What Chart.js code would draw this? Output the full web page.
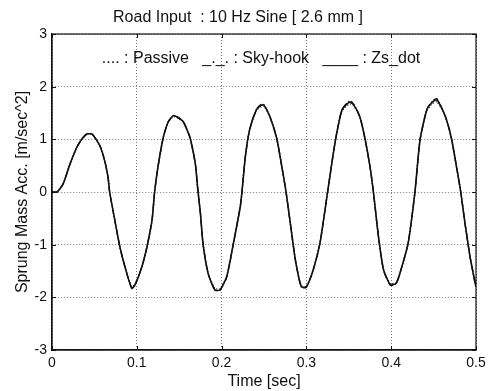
<!DOCTYPE html>
<html>
<head>
<meta charset="utf-8">
<script src="https://cdn.jsdelivr.net/npm/chart.js@4/dist/chart.umd.min.js"></script>
<style>
  html, body { margin: 0; padding: 0; background: #fff; }
  #wrap { width: 497px; height: 391px; position: relative; }
</style>
</head>
<body>
<div id="wrap"><canvas id="acc-chart"></canvas></div>
<script>
"use strict";

// time stamps [sec]
const timeSec = [
  0.000, 0.006, 0.013, 0.021, 0.029, 0.035, 0.041, 0.047, 0.052, 0.057,
  0.062, 0.066, 0.068, 0.074, 0.080, 0.086, 0.094, 0.098, 0.106, 0.112,
  0.118, 0.121, 0.125, 0.131, 0.137, 0.143, 0.149, 0.155, 0.160, 0.163,
  0.169, 0.172, 0.175, 0.178, 0.184, 0.192, 0.198, 0.206, 0.214, 0.222,
  0.224, 0.228, 0.233, 0.241, 0.247, 0.250, 0.257, 0.265, 0.271, 0.276,
  0.281, 0.287, 0.294, 0.300, 0.308, 0.316, 0.325, 0.330, 0.335, 0.342,
  0.351, 0.356, 0.363, 0.369, 0.375, 0.379, 0.385, 0.391, 0.399, 0.406,
  0.412, 0.420, 0.428, 0.434, 0.442, 0.448, 0.454, 0.464, 0.471, 0.477,
  0.482, 0.487, 0.493, 0.499, 0.500
];

// Zs_dot control (solid)
const zsDot = [
  0.00, 0.00, 0.15, 0.52, 0.84, 1.00, 1.10, 1.10, 1.00, 0.86,
  0.60, 0.29, 0.00, -0.53, -1.04, -1.42, -1.83, -1.76, -1.42, -1.04,
  -0.53, 0.00, 0.48, 1.02, 1.33, 1.45, 1.41, 1.33, 1.15, 1.02,
  0.54, 0.04, -0.40, -0.97, -1.54, -1.86, -1.86, -1.61, -0.97, -0.28,
  0.00, 0.67, 1.18, 1.56, 1.65, 1.65, 1.43, 1.02, 0.48, 0.00,
  -0.59, -1.29, -1.80, -1.80, -1.48, -0.97, 0.00, 0.55, 1.05, 1.56,
  1.71, 1.65, 1.43, 1.02, 0.48, 0.00, -0.85, -1.48, -1.76, -1.73,
  -1.45, -0.97, 0.00, 0.99, 1.56, 1.70, 1.75, 1.43, 1.02, 0.48,
  0.00, -0.59, -1.23, -1.73, -1.80
];

// Passive (dotted)
const passive = [
  0.00, 0.00, 0.15, 0.52, 0.84, 1.00, 1.10, 1.10, 1.00, 0.86,
  0.60, 0.29, 0.00, -0.53, -1.04, -1.42, -1.80, -1.74, -1.42, -1.04,
  -0.53, 0.00, 0.48, 1.02, 1.33, 1.43, 1.40, 1.33, 1.15, 1.02,
  0.54, 0.04, -0.40, -0.97, -1.54, -1.83, -1.84, -1.60, -0.97, -0.28,
  0.00, 0.67, 1.18, 1.55, 1.62, 1.63, 1.43, 1.02, 0.48, 0.00,
  -0.59, -1.29, -1.78, -1.79, -1.48, -0.97, 0.00, 0.55, 1.05, 1.54,
  1.67, 1.63, 1.43, 1.02, 0.48, 0.00, -0.85, -1.47, -1.74, -1.72,
  -1.45, -0.97, 0.00, 0.99, 1.54, 1.67, 1.71, 1.43, 1.02, 0.48,
  0.00, -0.59, -1.23, -1.70, -1.78
];

// Sky-hook (dash-dot)
const skyHook = [
  0.00, 0.00, 0.15, 0.52, 0.84, 1.00, 1.10, 1.10, 1.00, 0.86,
  0.60, 0.29, 0.00, -0.53, -1.04, -1.42, -1.82, -1.77, -1.42, -1.04,
  -0.53, 0.00, 0.48, 1.02, 1.33, 1.44, 1.42, 1.33, 1.15, 1.02,
  0.54, 0.04, -0.40, -0.97, -1.54, -1.85, -1.87, -1.62, -0.97, -0.28,
  0.00, 0.67, 1.18, 1.57, 1.67, 1.66, 1.43, 1.02, 0.48, 0.00,
  -0.59, -1.29, -1.81, -1.81, -1.48, -0.97, 0.00, 0.55, 1.05, 1.57,
  1.73, 1.66, 1.43, 1.02, 0.48, 0.00, -0.85, -1.49, -1.77, -1.74,
  -1.45, -0.97, 0.00, 0.99, 1.57, 1.72, 1.77, 1.43, 1.02, 0.48,
  0.00, -0.59, -1.23, -1.74, -1.81
];

const xTicks = [0, 0.1, 0.2, 0.3, 0.4, 0.5];
const yTicks = [-3, -2, -1, 0, 1, 2, 3];

const chartTitle = "Road Input  : 10 Hz Sine [ 2.6 mm ]";
const xTitle = "Time [sec]";
const yTitle = "Sprung Mass Acc. [m/sec^2]";
const legendText = ".... : Passive   _._. : Sky-hook   ____ : Zs_dot";

const FONT = "'Liberation Sans', Arial, Helvetica, sans-serif";
const INK = "#111";

const toPoints = (vals) => timeSec.map((t, i) => ({ x: t, y: vals[i] }));

// frame box, inward ticks and in-plot legend text (MATLAB style)
const framePlugin = {
  id: "frame",
  afterDatasetsDraw(chart) {
    const { ctx, chartArea: a, scales } = chart;
    ctx.save();
    ctx.strokeStyle = INK;
    ctx.lineWidth = 1.2;
    ctx.strokeRect(a.left, a.top, a.right - a.left, a.bottom - a.top);

    const tl = 4;
    ctx.lineWidth = 1;
    ctx.beginPath();
    xTicks.forEach((v) => {
      const px = Math.round(scales.x.getPixelForValue(v)) + 0.5;
      ctx.moveTo(px, a.bottom); ctx.lineTo(px, a.bottom - tl);
      ctx.moveTo(px, a.top); ctx.lineTo(px, a.top + tl);
    });
    yTicks.forEach((v) => {
      const py = Math.round(scales.y.getPixelForValue(v)) + 0.5;
      ctx.moveTo(a.left, py); ctx.lineTo(a.left + tl, py);
      ctx.moveTo(a.right, py); ctx.lineTo(a.right - tl, py);
    });
    ctx.stroke();

    ctx.fillStyle = INK;
    ctx.font = "16px " + FONT;
    ctx.textAlign = "center";
    ctx.textBaseline = "middle";
    ctx.fillText(legendText, scales.x.getPixelForValue(0.2465), scales.y.getPixelForValue(2.54));
    ctx.restore();
  },
};

const ctx = document.getElementById("acc-chart").getContext("2d");

new Chart(ctx, {
  type: "line",
  data: {
    datasets: [
      {
        label: "Passive",
        data: toPoints(passive),
        borderColor: INK,
        borderWidth: 1.3,
        borderDash: [1, 2],
        pointRadius: 0,
        tension: 0.2,
      },
      {
        label: "Sky-hook",
        data: toPoints(skyHook),
        borderColor: INK,
        borderWidth: 1.3,
        borderDash: [6, 2, 1, 2],
        pointRadius: 0,
        tension: 0.2,
      },
      {
        label: "Zs_dot",
        data: toPoints(zsDot),
        borderColor: INK,
        borderWidth: 1.6,
        pointRadius: 0,
        tension: 0.2,
      },
    ],
  },
  options: {
    responsive: true,
    maintainAspectRatio: false,
    animation: false,
    layout: { padding: { left: 0, right: 21, top: 0, bottom: 0 } },
    plugins: {
      legend: { display: false },
      tooltip: { enabled: false },
      title: {
        display: true,
        text: chartTitle,
        color: INK,
        font: { family: FONT, size: 16, weight: "normal" },
        padding: { top: 8, bottom: 6.8 },
      },
    },
    scales: {
      x: {
        type: "linear",
        min: 0,
        max: 0.5,
        afterBuildTicks: (scale) => {
          scale.ticks = xTicks.map((v) => ({ value: v }));
        },
        afterFit: (scale) => {
          scale.height = 41;
        },
        ticks: {
          color: INK,
          font: { family: FONT, size: 14 },
          padding: 5,
          maxRotation: 0,
          callback: (v) => (v === 0 ? "0" : Number(v).toFixed(1)),
        },
        grid: { color: "#555", lineWidth: 0.8, drawTicks: false },
        border: { display: true, color: INK, width: 1.2, dash: [1, 2] },
        title: {
          display: true,
          text: xTitle,
          color: INK,
          font: { family: FONT, size: 16 },
          padding: { top: 0, bottom: 0 },
        },
      },
      y: {
        min: -3,
        max: 3,
        afterBuildTicks: (scale) => {
          scale.ticks = yTicks.map((v) => ({ value: v }));
        },
        afterFit: (scale) => {
          scale.width = 52;
        },
        ticks: {
          color: INK,
          font: { family: FONT, size: 14 },
          padding: 5,
        },
        grid: { color: "#555", lineWidth: 0.8, drawTicks: false },
        border: { display: true, color: INK, width: 1.2, dash: [1, 2] },
        title: {
          display: true,
          text: yTitle,
          color: INK,
          font: { family: FONT, size: 16 },
          padding: { top: 13, bottom: 0 },
        },
      },
    },
  },
  plugins: [framePlugin],
});
</script>
</body>
</html>
